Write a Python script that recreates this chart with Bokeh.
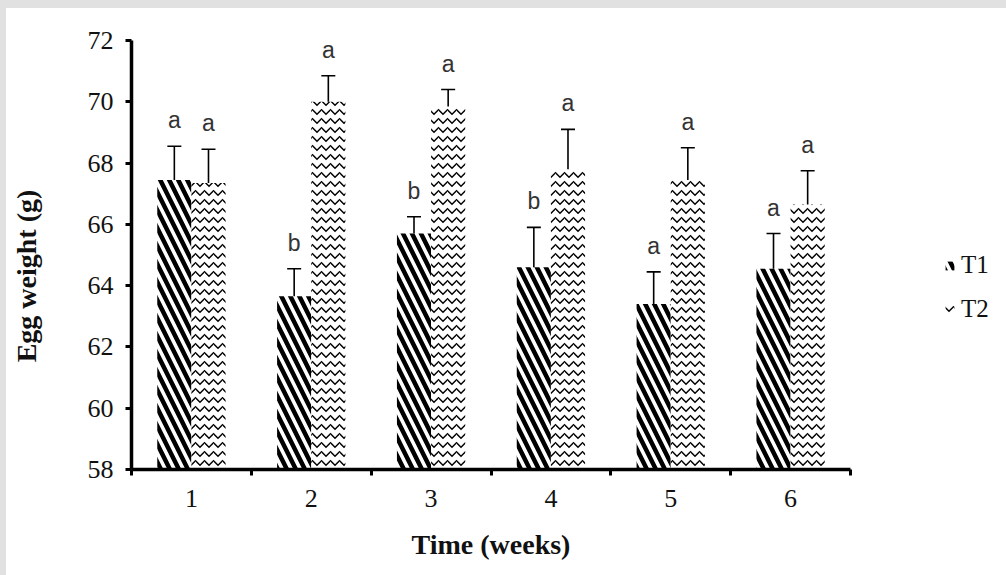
import numpy as np
from bokeh.plotting import figure
from bokeh.models import (ColumnDataSource, Whisker, TeeHead, FixedTicker, Legend,
                          LegendItem, Range1d)
from bokeh.layouts import row
from bokeh.core.properties import value
from bokeh.embed import file_html
from bokeh.resources import INLINE

weeks = [1, 2, 3, 4, 5, 6]
week_labels = ["1", "2", "3", "4", "5", "6"]
t1_mean = [67.45, 63.65, 65.70, 64.60, 63.40, 64.55]
t1_err = [1.10, 0.90, 0.55, 1.30, 1.05, 1.15]
t1_letters = ["a", "b", "b", "b", "a", "a"]
t2_mean = [67.35, 70.00, 69.85, 67.80, 67.45, 66.65]
t2_err = [1.10, 0.85, 0.55, 1.30, 1.05, 1.10]
t2_letters = ["a", "a", "a", "a", "a", "a"]
y_ticks = [58, 60, 62, 64, 66, 68, 70, 72]
series_names = ["T1", "T2"]

SERIF = "Liberation Serif"
BAR_W = 0.285
T1_STYLE = dict(fill_color="white", line_color=None, hatch_pattern="\\",
                hatch_color="black", hatch_weight=4.5, hatch_scale=18)
T2_STYLE = dict(fill_color="white", line_color=None, hatch_pattern="v",
                hatch_color="black", hatch_weight=1.5, hatch_scale=9)

p = figure(width=870, height=567, output_backend="svg", toolbar_location=None,
           x_range=Range1d(0.5, 6.5), y_range=Range1d(58, 72),
           min_border_left=125, min_border_right=26, min_border_top=32,
           min_border_bottom=106, background_fill_color="white",
           border_fill_color="white", outline_line_color=None)
p.xgrid.visible = False
p.ygrid.visible = False

def series(means, errs, letters, offset):
    m = np.array(means)
    e = np.array(errs)
    return ColumnDataSource(dict(x=np.array(weeks) + offset, top=m,
                                 upper=m + e, lower=m - e, lab=letters))

s1 = series(t1_mean, t1_err, t1_letters, -BAR_W / 2)
s2 = series(t2_mean, t2_err, t2_letters, BAR_W / 2)

p.vbar(x="x", top="top", bottom=58, width=BAR_W, source=s1, **T1_STYLE)
p.vbar(x="x", top="top", bottom=58, width=BAR_W, source=s2, **T2_STYLE)

for s in (s1, s2):
    w = Whisker(base="x", upper="upper", lower="lower", source=s,
                line_width=1.6, line_color="black",
                upper_head=TeeHead(size=14, line_width=1.6, line_color="black"),
                lower_head=TeeHead(size=14, line_width=1.6, line_color="black"))
    p.add_layout(w)
    p.text(x="x", y="upper", text="lab", source=s, text_align="center",
           text_baseline="alphabetic", y_offset=-26, text_font=value("Liberation Sans"),
           text_font_size="23px", text_color="#333333")

# axes
p.xaxis.ticker = FixedTicker(ticks=weeks, minor_ticks=[0.5 + i for i in range(7)])
p.xaxis.major_label_overrides = {w: l for w, l in zip(weeks, week_labels)}
p.xaxis.major_tick_out = 0
p.xaxis.major_tick_in = 0
p.xaxis.minor_tick_out = 6
p.xaxis.minor_tick_in = 0
p.xaxis.minor_tick_line_width = 3
p.xaxis.minor_tick_line_color = "black"
p.yaxis.ticker = FixedTicker(ticks=y_ticks, minor_ticks=[])
p.yaxis.major_tick_out = 6
p.yaxis.major_tick_in = 0
p.yaxis.major_tick_line_width = 3
for ax in (p.xaxis, p.yaxis):
    ax.axis_line_width = 3.5
    ax.axis_line_color = "black"
    ax.major_tick_line_color = "black"
    ax.major_label_text_font = SERIF
    ax.major_label_text_font_size = "26px"
    ax.major_label_text_color = "#111111"
    ax.axis_label_text_font = SERIF
    ax.axis_label_text_font_size = "28px"
    ax.axis_label_text_font_style = "bold"
    ax.axis_label_text_color = "#111111"
p.xaxis.major_label_standoff = 14
p.yaxis.major_label_standoff = 12
p.xaxis.axis_label = "Time (weeks)"
p.yaxis.axis_label = "Egg weight (g)" + "\u00a0" * 6
p.xaxis.axis_label_standoff = 19
p.yaxis.axis_label_standoff = 43

# legend panel
q = figure(width=130, height=567, output_backend="svg", toolbar_location=None,
           x_range=Range1d(0, 1), y_range=Range1d(0, 1),
           x_axis_type=None, y_axis_type=None, min_border=0,
           background_fill_color="white", border_fill_color="white",
           outline_line_color=None)
q.xgrid.visible = False
q.ygrid.visible = False
lr1 = q.vbar(x=[5], top=[6], bottom=5, width=0.5, **T1_STYLE)
lr2 = q.vbar(x=[5], top=[6], bottom=5, width=0.5, **T2_STYLE)
legend = Legend(items=[LegendItem(label=series_names[0], renderers=[lr1]),
                       LegendItem(label=series_names[1], renderers=[lr2])],
                location=(68, 146), orientation="vertical",
                border_line_color=None, background_fill_alpha=0,
                label_text_font=SERIF, label_text_font_size="25px",
                label_text_color="#111111", glyph_width=11, glyph_height=11,
                spacing=16, label_standoff=6, padding=0, margin=0)
q.add_layout(legend, "center")

page = row(p, q, width=1006, height=575,
           styles={"background-color": "white", "padding-left": "6px",
                   "padding-top": "8px",
                   "box-shadow": "inset 6px 8px 0 0 #e1e1e1"})

open("out.html", "w").write(file_html(page, INLINE))
